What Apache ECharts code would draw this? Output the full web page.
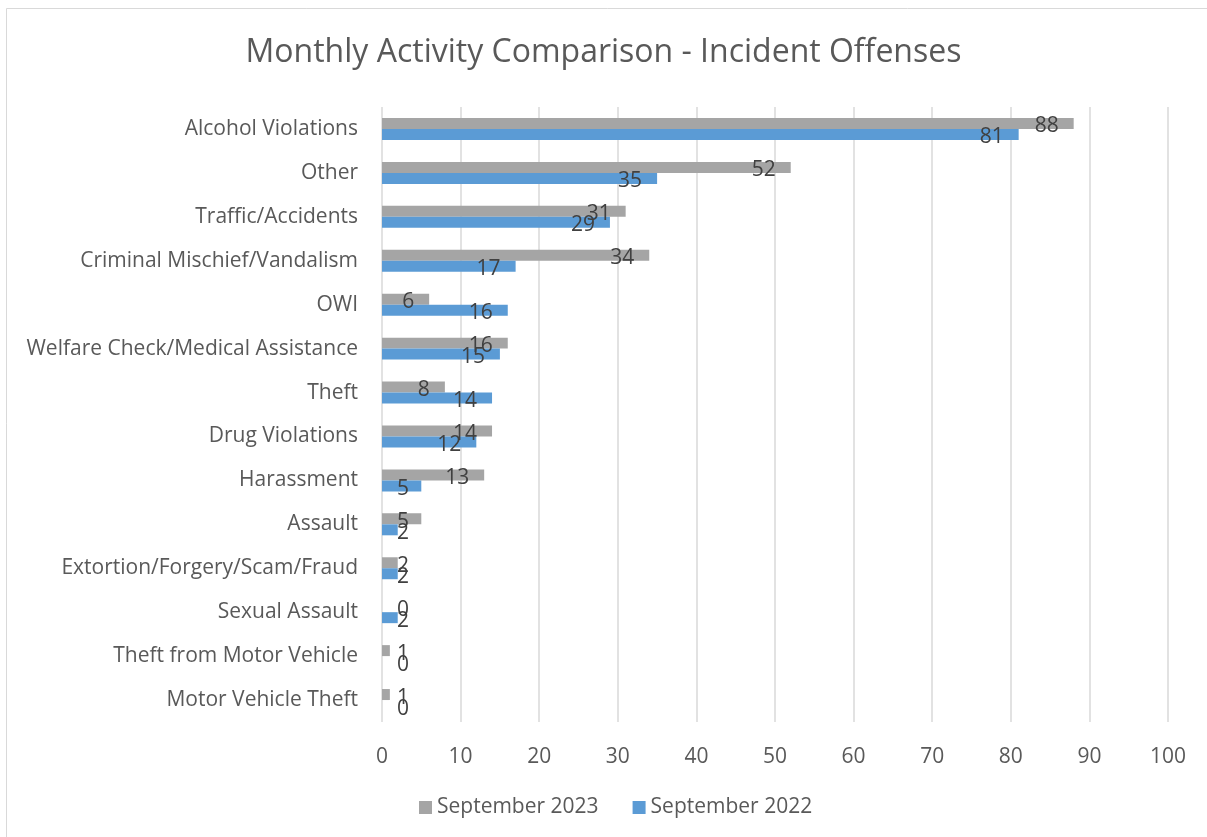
<!DOCTYPE html>
<html>
<head>
<meta charset="utf-8">
<script src="https://cdn.jsdelivr.net/npm/echarts@6/dist/echarts.min.js"></script>
<style>
  html, body { margin: 0; padding: 0; background: #fff; }
  #chart { width: 1207px; height: 837px; }
</style>
</head>
<body>
<div id="chart"></div>
<script>
var categories = [
  "Alcohol Violations", "Other", "Traffic/Accidents", "Criminal Mischief/Vandalism",
  "OWI", "Welfare Check/Medical Assistance", "Theft", "Drug Violations",
  "Harassment", "Assault", "Extortion/Forgery/Scam/Fraud", "Sexual Assault",
  "Theft from Motor Vehicle", "Motor Vehicle Theft"
];
var sep2023 = [88, 52, 31, 34, 6, 16, 8, 14, 13, 5, 2, 0, 1, 1];
var sep2022 = [81, 35, 29, 17, 16, 15, 14, 12, 5, 2, 2, 2, 0, 0];

var font = "Open Sans";
var textColor = "#595959";

// labels sit just inside the bar end, but never left of the axis start
function placeLabel(p) {
  var w = p.labelRect.width;
  var right = p.rect.x + p.rect.width - 15;
  var left = Math.max(right - w, 397);
  return {
    x: left,
    y: p.rect.y + p.rect.height / 2 + 3,
    align: "left",
    verticalAlign: "middle"
  };
}

var labelStyle = {
  show: true,
  position: "insideRight",
  color: "#404040",
  fontFamily: font,
  fontSize: 21
};

var myChart = echarts.init(document.getElementById("chart"));
myChart.setOption({
  backgroundColor: "#fff",
  animation: false,
  graphic: [{
    type: "rect",
    shape: { x: 6.5, y: 8.5, width: 1300, height: 900 },
    style: { fill: "none", stroke: "#D9D9D9", lineWidth: 1 }
  }],
  title: {
    text: "Monthly Activity Comparison - Incident Offenses",
    left: "center",
    top: 32,
    textStyle: { color: textColor, fontFamily: font, fontSize: 32, fontWeight: "normal" }
  },
  legend: {
    bottom: 14,
    left: 414,
    itemWidth: 13,
    itemHeight: 13,
    itemGap: 34,
    icon: "rect",
    textStyle: { color: textColor, fontFamily: font, fontSize: 21 },
    data: ["September 2023", "September 2022"]
  },
  grid: {
    left: 382,
    right: 39,
    top: 107,
    bottom: 115,
    containLabel: false
  },
  xAxis: {
    type: "value",
    min: 0,
    max: 100,
    interval: 10,
    axisLine: { show: false },
    axisTick: { show: false },
    axisLabel: { color: textColor, fontFamily: font, fontSize: 21, margin: 25 },
    splitLine: { show: true, lineStyle: { color: "#D9D9D9", width: 1.5 } }
  },
  yAxis: {
    type: "category",
    inverse: true,
    data: categories,
    axisLine: { show: false },
    axisTick: { show: false },
    axisLabel: { color: textColor, fontFamily: font, fontSize: 21, margin: 24 }
  },
  series: [
    {
      name: "September 2023",
      type: "bar",
      data: sep2023,
      barGap: "0%",
      barCategoryGap: "50%",
      itemStyle: { color: "#A5A5A5" },
      label: labelStyle,
      labelLayout: placeLabel
    },
    {
      name: "September 2022",
      type: "bar",
      data: sep2022,
      barGap: "0%",
      barCategoryGap: "50%",
      itemStyle: { color: "#5B9BD5" },
      label: labelStyle,
      labelLayout: placeLabel
    }
  ]
});
</script>
</body>
</html>
